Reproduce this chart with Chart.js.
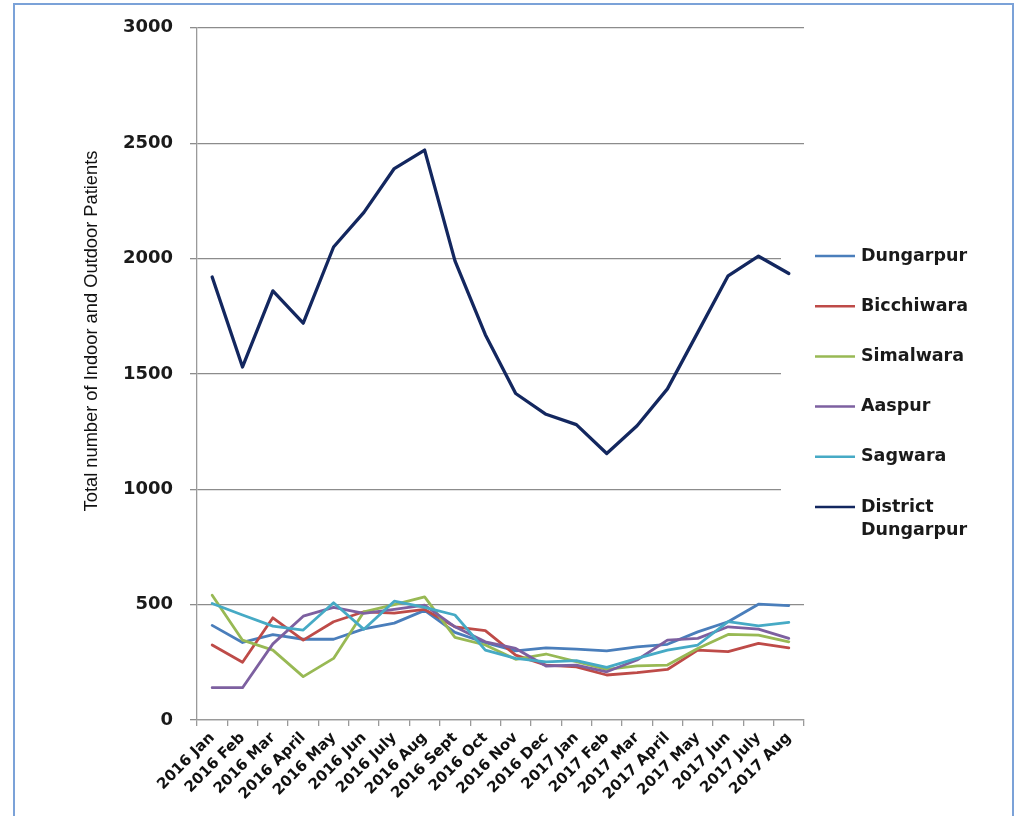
<!DOCTYPE html>
<html lang="en">
<head>
    <meta charset="UTF-8">
    <meta name="viewport" content="width=device-width, initial-scale=1.0">
    <title>Indoor and Outdoor Patients</title>
    <style>
        body {
            margin: 0;
            padding: 0;
            background-color: #fff;
            overflow: hidden;
        }
        .frame {
            position: absolute;
            left: 13px;
            top: 3px;
            width: 1001px;
            height: 900px;
            border: 2px solid #7ba2d8;
            box-sizing: border-box;
        }
        .chart-container {
            position: absolute;
            left: 0;
            top: 0;
            width: 1021px;
            height: 816px;
        }
    </style>
</head>
<body>
    <div class="frame"></div>
    <div class="chart-container">
        <canvas id="patientChart"></canvas>
    </div>
    <script src="https://cdn.jsdelivr.net/npm/chart.js@4.4.1/dist/chart.umd.min.js"></script>
    <script>
        // monthly patient counts per block
        const months = ['2016 Jan', '2016 Feb', '2016 Mar', '2016 April', '2016 May', '2016 Jun',
            '2016 July', '2016 Aug', '2016 Sept', '2016 Oct', '2016 Nov', '2016 Dec',
            '2017 Jan', '2017 Feb', '2017 Mar', '2017 April', '2017 May', '2017 Jun',
            '2017 July', '2017 Aug'];
        const dungarpur = [410, 336, 370, 350, 350, 395, 420, 475, 380, 335, 300, 313, 307, 300, 317, 328, 382, 426, 502, 496];
        const bicchiwara = [325, 250, 443, 346, 426, 469, 463, 479, 404, 387, 281, 238, 230, 195, 205, 219, 303, 296, 332, 313];
        const simalwara = [541, 346, 303, 188, 267, 469, 500, 534, 358, 325, 263, 286, 253, 219, 235, 238, 310, 371, 368, 339];
        const aaspur = [140, 140, 330, 450, 488, 462, 479, 498, 404, 339, 310, 234, 238, 209, 260, 346, 354, 404, 394, 354];
        const sagwara = [505, 455, 407, 390, 508, 393, 515, 488, 455, 303, 267, 252, 257, 228, 267, 303, 325, 426, 408, 423];
        const districtDungarpur = [1920, 1530, 1860, 1720, 2050, 2200, 2390, 2470, 1990, 1670, 1415, 1325, 1280, 1155, 1275, 1435, 1680, 1925, 2010, 1935];

        const seriesNames = ['Dungarpur', 'Bicchiwara', 'Simalwara', 'Aaspur', 'Sagwara', 'District Dungarpur'];
        const seriesData = [dungarpur, bicchiwara, simalwara, aaspur, sagwara, districtDungarpur];
        const seriesColors = ['#4a7ebb', '#be4b48', '#98b954', '#7d60a0', '#46aac5', '#13275f'];
        const yTicks = [0, 500, 1000, 1500, 2000, 2500, 3000];
        const yTitle = 'Total number of Indoor and Outdoor Patients';

        const boldFont = size => ({ family: 'DejaVu Sans', weight: 'bold', size: size });

        // white box behind the legend, covers the gridlines there
        const legendBackdrop = {
            id: 'legendBackdrop',
            beforeDatasetsDraw(chart) {
                const ctx = chart.ctx;
                ctx.save();
                ctx.fillStyle = '#fff';
                ctx.fillRect(781, 232, 228, 330);
                ctx.restore();
            }
        };

        // legend on the right, long names wrap onto a second line
        const sideLegend = {
            id: 'sideLegend',
            afterDraw(chart) {
                const ctx = chart.ctx;
                ctx.save();
                ctx.font = 'bold 17.5px "DejaVu Sans"';
                ctx.textBaseline = 'middle';
                ctx.fillStyle = '#1a1a1a';
                seriesNames.forEach((name, i) => {
                    const y = 256 + i * 50.2;
                    ctx.strokeStyle = seriesColors[i];
                    ctx.lineWidth = 2.5;
                    ctx.beginPath();
                    ctx.moveTo(815, y);
                    ctx.lineTo(855, y);
                    ctx.stroke();
                    const lines = ctx.measureText(name).width > 130 ? name.split(' ') : [name];
                    lines.forEach((line, j) => ctx.fillText(line, 861, y + j * 23));
                });
                ctx.restore();
            }
        };

        const axisTitle = {
            id: 'axisTitle',
            afterDraw(chart) {
                const ctx = chart.ctx;
                ctx.save();
                ctx.translate(92, 331);
                ctx.rotate(-Math.PI / 2);
                ctx.font = '18.3px "Liberation Sans", sans-serif';
                ctx.textAlign = 'center';
                ctx.textBaseline = 'middle';
                ctx.fillStyle = '#111';
                ctx.fillText(yTitle, 0, 0);
                ctx.restore();
            }
        };

        const ctx = document.getElementById('patientChart').getContext('2d');
        new Chart(ctx, {
            type: 'line',
            data: {
                labels: months,
                datasets: seriesNames.map((name, i) => ({
                    label: name,
                    data: seriesData[i],
                    borderColor: seriesColors[i],
                    backgroundColor: seriesColors[i],
                    borderWidth: i === 5 ? 3.3 : 2.8,
                    pointRadius: 0,
                    tension: 0,
                    fill: false,
                    borderJoinStyle: 'round',
                    borderCapStyle: 'round',
                    order: 5 - i
                }))
            },
            options: {
                responsive: true,
                maintainAspectRatio: false,
                animation: false,
                layout: {
                    padding: { left: 0, top: 27, right: 217, bottom: 0 }
                },
                plugins: {
                    legend: { display: false },
                    tooltip: { enabled: false }
                },
                scales: {
                    x: {
                        offset: true,
                        grid: {
                            offset: true,
                            drawOnChartArea: false,
                            drawTicks: true,
                            tickLength: 6,
                            color: '#9a9a9a',
                            lineWidth: 1.3
                        },
                        border: { color: '#9a9a9a', width: 1.3 },
                        ticks: {
                            autoSkip: false,
                            minRotation: 45,
                            maxRotation: 45,
                            padding: 3,
                            color: '#111',
                            font: boldFont(15)
                        },
                        afterFit(scale) {
                            scale.height = 96;
                        }
                    },
                    y: {
                        min: 0,
                        max: 3000,
                        afterBuildTicks(scale) {
                            scale.ticks = yTicks.map(v => ({ value: v }));
                        },
                        grid: {
                            color: '#8c8c8c',
                            lineWidth: 1.3,
                            tickLength: 7
                        },
                        border: { color: '#9a9a9a', width: 1.3 },
                        ticks: {
                            padding: 17,
                            color: '#1a1a1a',
                            font: boldFont(18),
                            callback: value => String(value)
                        },
                        afterFit(scale) {
                            scale.width = 197;
                        }
                    }
                }
            },
            plugins: [legendBackdrop, sideLegend, axisTitle]
        });
    </script>
</body>
</html>
